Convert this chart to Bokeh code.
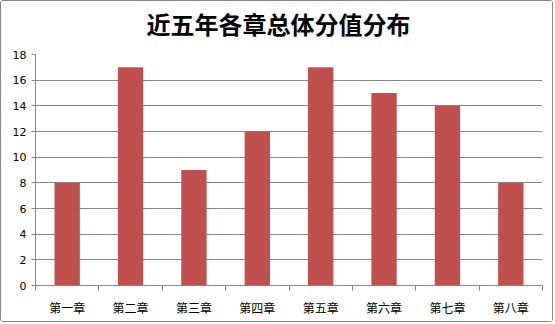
from bokeh.plotting import figure
from bokeh.models import Range1d, FixedTicker, LinearAxis, Title
from bokeh.embed import file_html
from bokeh.resources import INLINE

title_text = "近五年各章总体分值分布"
categories = ["第一章", "第二章", "第三章", "第四章", "第五章", "第六章", "第七章", "第八章"]
scores = [8, 17, 9, 12, 17, 15, 14, 8]
y_ticks = [0, 2, 4, 6, 8, 10, 12, 14, 16, 18]

xs = list(range(1, len(categories) + 1))
grey = "#868686"

p = figure(width=553, height=322, output_backend="svg", toolbar_location=None,
           x_range=Range1d(0.5, len(categories) + 0.5), y_range=Range1d(0, 18),
           min_border_left=34, min_border_right=12, min_border_top=53, min_border_bottom=38,
           x_axis_location=None, y_axis_location="left")
p.styles = {"border": "1px solid " + grey, "border-radius": "3px"}
p.outline_line_color = None
p.background_fill_color = "white"
p.border_fill_color = "white"

p.title.text = title_text
p.title.align = "left"
p.title.offset = 111
p.title.text_font = "Noto Sans CJK SC"
p.title.text_font_size = "24px"
p.title.text_font_style = "bold"
p.title.text_color = "black"
p.title.standoff = 0

# spacer between title and plot area
p.add_layout(Title(text=" ", text_font_size="11px", standoff=0), "above")

p.vbar(x=xs, top=scores, width=0.4, fill_color="#C0504D", line_color=None)

# y axis
ya = p.yaxis[0]
ya.ticker = FixedTicker(ticks=y_ticks)
ya.axis_line_color = grey
ya.major_tick_line_color = grey
ya.major_tick_in = 0
ya.major_tick_out = 4
ya.minor_tick_line_color = None
ya.major_label_text_font = "DejaVu Sans"
ya.major_label_text_font_size = "11px"
ya.major_label_text_color = "black"
ya.major_label_standoff = 5

p.xgrid.grid_line_color = None
p.ygrid.grid_line_color = grey
p.ygrid.ticker = FixedTicker(ticks=y_ticks)

# boundary ticks axis
bounds = [i + 0.5 for i in range(len(categories) + 1)]
xa1 = LinearAxis(ticker=FixedTicker(ticks=bounds),
                 major_label_overrides={b: "" for b in bounds},
                 axis_line_color=grey, major_tick_line_color=grey,
                 major_tick_in=0, major_tick_out=5, minor_tick_line_color=None,
                 major_label_text_font_size="1px", major_label_standoff=0)
p.add_layout(xa1, "below")

# label axis
xa2 = LinearAxis(ticker=FixedTicker(ticks=xs),
                 major_label_overrides={x: c for x, c in zip(xs, categories)},
                 axis_line_color=None, major_tick_line_color=None,
                 minor_tick_line_color=None,
                 major_label_text_font="Noto Sans CJK SC",
                 major_label_text_font_size="12px",
                 major_label_text_color="black",
                 major_label_standoff=2)
p.add_layout(xa2, "below")

open("out.html", "w").write(file_html(p, INLINE))
